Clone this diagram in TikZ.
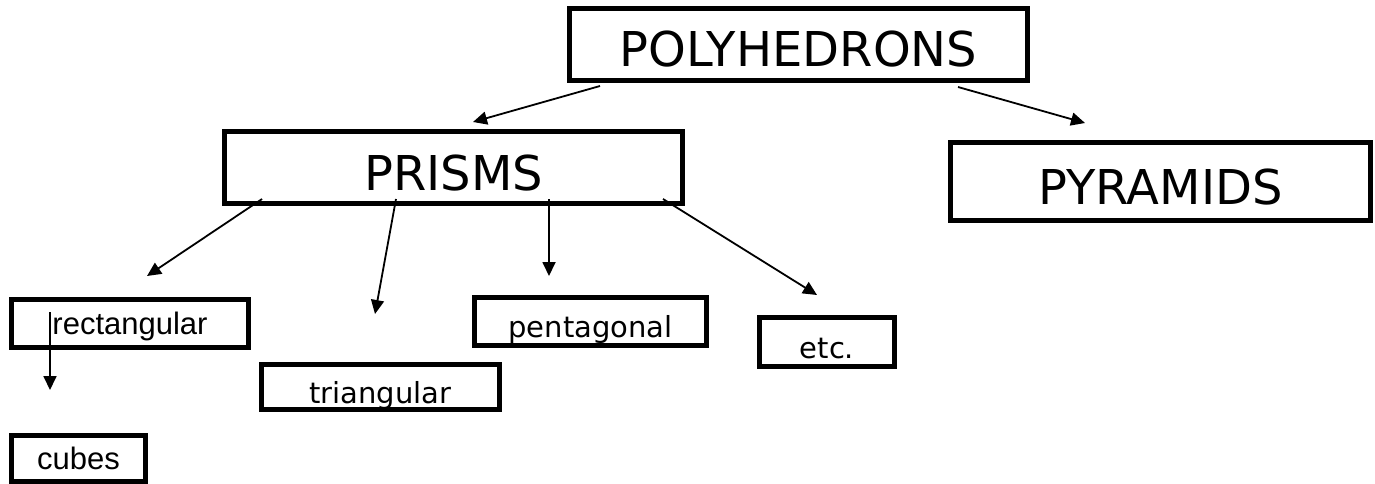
\documentclass[tikz,border=0pt]{standalone}
\usepackage{fontspec}
\setmainfont{Liberation Sans}
\newfontfamily\handfont{DejaVu Sans}
\usetikzlibrary{
  arrows.meta
}

\begin{document}
\begin{tikzpicture}[x=1pt,y=-1pt]
  \tikzset{
    box/.style = {draw, line width=5pt, inner sep=0pt, align=center, text depth=0pt},
    bigbox/.style = {box, text height=45pt, font=\handfont\fontsize{48}{50}\selectfont},
    handbox/.style = {box, text height=32pt, font=\handfont\fontsize{29}{31}\selectfont},
    plainbox/.style = {box, text height=21pt, font=\fontsize{31}{33}\selectfont},
    arr/.style = {line width=1.8pt, -{Triangle[length=14pt,width=13pt]}},
  }
  \useasboundingbox (0,0) rectangle (1375,484);

  % top levels
  \node[bigbox, minimum width=458pt, minimum height=72pt] (poly) at (798.5,44.5) {POLYHEDRONS};
  \node[bigbox, minimum width=458pt, minimum height=72pt] (prisms) at (453.5,167.5) {PRISMS};
  \node[bigbox, minimum width=420pt, minimum height=78pt] (pyramids) at (1160.5,181.5) {PYRAMIDS};

  % kinds of prisms
  \node[plainbox, minimum width=237pt, minimum height=48pt] (rect) at (130,323.5) {rectangular};
  \node[handbox, minimum width=238pt, minimum height=45pt] (tri) at (380.5,387) {triangular};
  \node[handbox, minimum width=232pt, minimum height=48pt] (pent) at (590.5,321.5) {pentagonal};
  \node[handbox, minimum width=135pt, minimum height=49pt] (etc) at (827,342) {etc.};
  \node[plainbox, minimum width=134pt, minimum height=46pt] (cubes) at (78.5,458.5) {cubes};

  % arrow ends
  \coordinate (sPri) at (600,86);
  \coordinate (tPri) at (473,122);
  \coordinate (sPyr) at (958,87);
  \coordinate (tPyr) at (1085,123);
  \coordinate (sRect) at (262,199);
  \coordinate (tRect) at (147,276);
  \coordinate (sTri) at (396,199);
  \coordinate (tTri) at (375,314);
  \coordinate (sPent) at (549,199);
  \coordinate (tPent) at (549,276);
  \coordinate (sEtc) at (663,199);
  \coordinate (tEtc) at (817,295);
  \coordinate (sCube) at (50,312);
  \coordinate (tCube) at (50,390);

  \foreach \s/\t in {sPri/tPri,sPyr/tPyr,sRect/tRect,sTri/tTri,sPent/tPent,sEtc/tEtc,sCube/tCube}
  \draw[arr] (\s) -- (\t);
\end{tikzpicture}
\end{document}
